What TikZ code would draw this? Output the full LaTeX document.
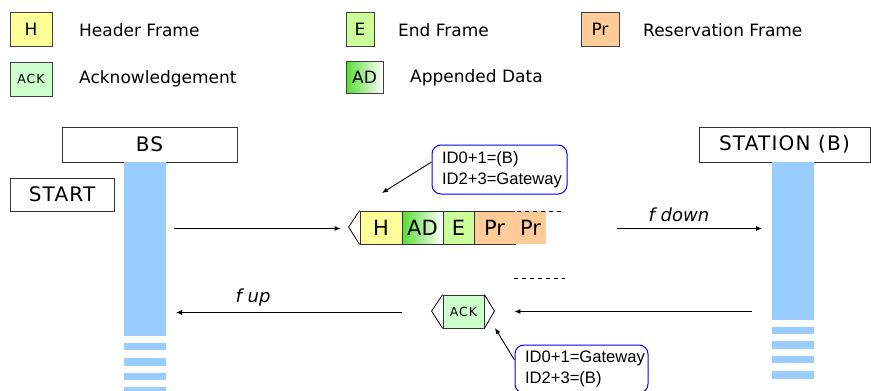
\documentclass[tikz,border=0pt]{standalone}
\usepackage{fontspec}
\setmainfont{DejaVu Sans}
\newfontfamily\arialfont{Liberation Sans}
\newfontfamily\capsfont[LetterSpace=6]{DejaVu Sans}
\newfontfamily\ackfont[LetterSpace=8]{DejaVu Sans}
\usetikzlibrary{arrows.meta}
\definecolor{hyellow}{HTML}{FFFF99}
\definecolor{ackgreen}{HTML}{CCFFCC}
\definecolor{egreen}{HTML}{CCFF99}
\definecolor{peach}{HTML}{FFCC99}
\definecolor{lifeblue}{HTML}{99CCFF}
\definecolor{adgreen}{HTML}{55DD33}
\begin{document}
\begin{tikzpicture}[x=1pt,y=-1pt,
  legbox/.style={draw=black!75, line width=0.8pt, inner sep=0pt, minimum width=42pt, minimum height=34pt, font=\fontsize{17}{17}\selectfont},
  legtext/.style={anchor=west, inner sep=0pt, font=\fontsize{17}{17}\selectfont},
  headbox/.style={draw=black!80, line width=0.8pt, fill=white, inner sep=0pt, minimum height=35pt, font=\capsfont\fontsize{20}{20}\selectfont},
  life/.style={fill=lifeblue, draw=none, inner sep=0pt, minimum width=42pt},
  framebox/.style={draw=black!80, line width=0.8pt, inner sep=0pt, minimum height=33pt, font=\fontsize{21}{21}\selectfont},
  ackstyle/.style={font=\ackfont\fontsize{12.5}{12.5}\selectfont},
  msg/.style={-{Latex[length=6pt,width=5pt]}, line width=0.9pt},
  callout/.style={draw=blue, rounded corners=9pt, line width=1pt, fill=white, inner xsep=10pt, inner ysep=0pt, align=left, font=\arialfont\fontsize{16.6}{21.5}\selectfont},
  flabel/.style={inner sep=0pt, font=\itshape\fontsize{18}{18}\selectfont},
  dashline/.style={line width=0.8pt, dash pattern=on 4pt off 4pt}
]
\useasboundingbox (0,0) rectangle (871,391);

% legend
\node[legbox, fill=hyellow] (lh) at (31,29) {H};
\node[legtext] (lht) at (79,30) {Header Frame};
\node[legbox, fill=ackgreen, ackstyle] (lack) at (31,79) {ACK};
\node[legtext] (lackt) at (79,79) {Acknowledgement};
\node[legbox, fill=egreen, minimum width=28pt] (le) at (360,29) {E};
\node[legtext] (let) at (398,30) {End Frame};
\node[legbox, fill=peach, minimum width=38pt] (lpr) at (600,29) {Pr};
\node[legtext] (lprt) at (643,30) {Reservation Frame};
\node[legbox, left color=adgreen, right color=white, minimum width=37pt, minimum height=32pt] (lad) at (364.5,77) {AD};
\node[legtext] (ladt) at (410,78) {Appended Data};

% headers
\node[headbox, minimum width=175pt] (bs) at (149.5,144.5) {BS};
\node[headbox, minimum width=171pt] (st) at (784.5,144.5) {STATION (B)};
\node[headbox, minimum width=104pt, minimum height=33pt] (start) at (62,194.5) {START};

% lifelines
\node[life, minimum height=174pt] (bsl) at (145,249) {};
\node[life, minimum height=7pt] (bs1) at (145,346.5) {};
\node[life, minimum height=8pt] (bs2) at (145,362) {};
\node[life, minimum height=7pt] (bs3) at (145,376.5) {};
\node[life, minimum height=6pt] (bs4) at (145,390) {};
\node[life, minimum height=158pt] (stl) at (793,241) {};
\node[life, minimum height=7pt] (st1) at (793,330.5) {};
\node[life, minimum height=8pt] (st2) at (793,345) {};
\node[life, minimum height=7pt] (st3) at (793,359.5) {};
\node[life, minimum height=8pt] (st4) at (793,375) {};

% downlink frame train
\node[framebox, fill=hyellow, minimum width=42pt] (fh) at (381,227.5) {H};
\node[framebox, left color=adgreen, right color=white, minimum width=41pt] (fad) at (422.5,227.5) {AD};
\node[framebox, fill=egreen, minimum width=31pt] (fe) at (458.5,227.5) {E};
\node[framebox, fill=peach, minimum width=41pt] (fpr) at (494.5,227.5) {Pr};
\node[framebox, draw=none, fill=peach, minimum width=31pt] (fpr2) at (530.5,227.5) {Pr};
\draw[line width=0.8pt, fill=white] (fh.north west) -- ++(-11,16.5) coordinate (ftip) -- (fh.south west);
\coordinate (d1a) at (517,211);
\coordinate (d1b) at (564,211);
\draw[dashline] (d1a) -- (d1b);

% ack
\node[framebox, fill=ackgreen, minimum width=41pt, ackstyle] (ack) at (463.5,311.5) {ACK};
\draw[line width=0.8pt] (ack.north west) -- ++(-11,16.5) coordinate (atipl) -- (ack.south west);
\draw[line width=0.8pt] (ack.north east) -- ++(10,16.5) coordinate (atipr) -- (ack.south east);
\coordinate (d2a) at (514,278);
\coordinate (d2b) at (565,278);
\draw[dashline] (d2a) -- (d2b);

% messages
\coordinate (m1s) at (174,228.5);
\draw[msg] (m1s) -- ([xshift=-8pt]ftip |- m1s);
\coordinate (m2s) at (617,228.5);
\coordinate (m2e) at (762,228.5);
\draw[msg] (m2s) -- (m2e);
\node[flabel] (fdown) at (679,215) {f down};
\coordinate (m3s) at (752,311.5);
\draw[msg] (m3s) -- ([xshift=20pt]atipr |- m3s);
\coordinate (m4s) at (402,312.5);
\coordinate (m4e) at (176,312.5);
\draw[msg] (m4s) -- (m4e);
\node[flabel] (fup) at (253,298) {f up};

% callouts
\node[callout, minimum width=135pt, minimum height=49pt, text width=115pt] (c1) at (499.5,169.5) {ID0+1=(B)\\ID2+3=Gateway};
\coordinate (c1t) at (382,193);
\draw[msg] (c1.west |- 0,162) -- (c1t);
\node[callout, minimum width=133pt, minimum height=48pt, text width=113pt] (c2) at (581.5,369) {ID0+1=Gateway\\ID2+3=(B)};
\coordinate (c2t) at (495,328);
\draw[msg] (c2.west |- 0,360) -- (c2t);
\end{tikzpicture}
\end{document}
